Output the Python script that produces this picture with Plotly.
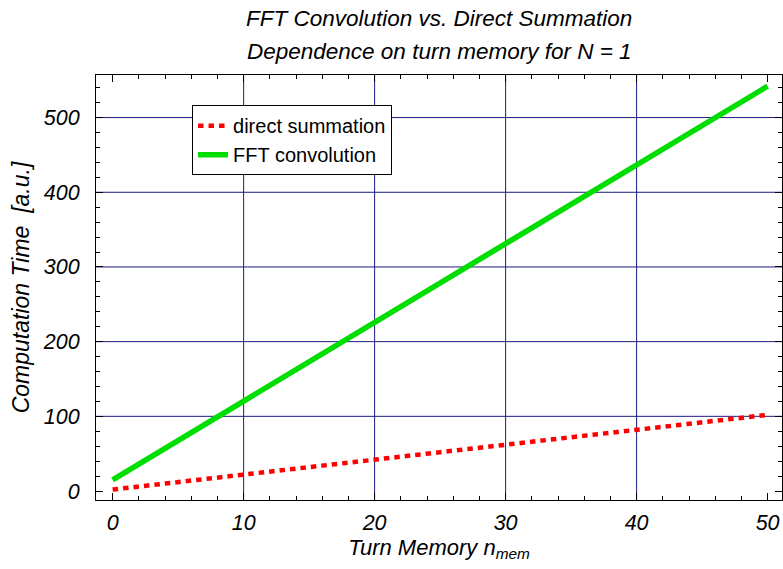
import plotly.graph_objects as go

# Data
turn_memory = [0, 10, 20, 30, 40, 50]
direct_summation = [2, 22, 42, 62, 82, 102]
fft_convolution = [15, 120, 226, 331, 437, 542]

x_ticks = [0, 10, 20, 30, 40, 50]
y_ticks = [0, 100, 200, 300, 400, 500]
x_grid = [10, 20, 30, 40]
y_grid = [100, 200, 300, 400, 500]

title_lines = ["FFT Convolution vs. Direct Summation",
               "Dependence on turn memory for N = 1"]

FONT = "Liberation Sans, Arial, sans-serif"
GRID = "#1c1c84"

fig = go.Figure()
fig.add_trace(go.Scatter(
    x=turn_memory, y=direct_summation, mode="lines", name="direct summation",
    legendgroup="a",
    line=dict(color="#ff0000", width=4.5, dash="5.5px,5px"),
))
fig.add_trace(go.Scatter(
    x=turn_memory, y=fft_convolution, mode="lines", name="FFT convolution",
    legendgroup="b",
    line=dict(color="#00dd00", width=5.5),
))

shapes = []
for gx in x_grid:
    shapes.append(dict(type="line", xref="x", yref="paper", x0=gx, x1=gx, y0=0, y1=1,
                       line=dict(color=GRID, width=1), layer="below"))
for gy in y_grid:
    shapes.append(dict(type="line", xref="paper", yref="y", x0=0, x1=1, y0=gy, y1=gy,
                       line=dict(color=GRID, width=1), layer="below"))

axis_common = dict(
    showgrid=False, zeroline=False, showline=True, linecolor="black", linewidth=1,
    mirror="allticks", ticks="inside", tickcolor="black", ticklen=7, tickwidth=1,
    tickfont=dict(family=FONT, size=21.5, color="black", style="italic"),
)

plot_top = 75
plot_h = 569 - 75 - 69
annotations = []
for text, py in zip(title_lines, [18, 51]):
    annotations.append(dict(
        text=text, x=0.5, y=1 + (plot_top - py) / plot_h, xref="paper", yref="paper",
        xanchor="center", yanchor="middle", showarrow=False,
        font=dict(family=FONT, size=22.5, color="black", style="italic")))

fig.update_layout(
    width=783, height=569,
    margin=dict(l=96, r=1, t=75, b=69),
    paper_bgcolor="white", plot_bgcolor="white",
    font=dict(family=FONT, color="black"),
    shapes=shapes,
    showlegend=True,
    legend=dict(
        x=0.14, y=0.929, xanchor="left", yanchor="top",
        bgcolor="white", bordercolor="black", borderwidth=1,
        font=dict(family=FONT, size=20, color="black"),
        traceorder="grouped", tracegroupgap=0, itemwidth=30,
    ),
    xaxis=dict(
        range=[-1.27, 51.1], tickvals=x_ticks, ticktext=[str(v) for v in x_ticks],
        minor=dict(dtick=2, ticks="inside", ticklen=4, tickcolor="black", showgrid=False),
        ticklabelstandoff=3,
        title=dict(text="Turn Memory n<sub>mem</sub>", standoff=4,
                   font=dict(family=FONT, size=22, color="black", style="italic")),
        **axis_common,
    ),
    yaxis=dict(
        range=[-12, 557], tickvals=y_ticks, ticktext=[str(v) for v in y_ticks],
        minor=dict(dtick=20, ticks="inside", ticklen=4, tickcolor="black", showgrid=False),
        ticklabelstandoff=11,
        title=dict(text="Computation Time  [a.u.]", standoff=6,
                   font=dict(family=FONT, size=23, color="black", style="italic")),
        **axis_common,
    ),
    annotations=annotations,
)

fig.write_html("out.html")
